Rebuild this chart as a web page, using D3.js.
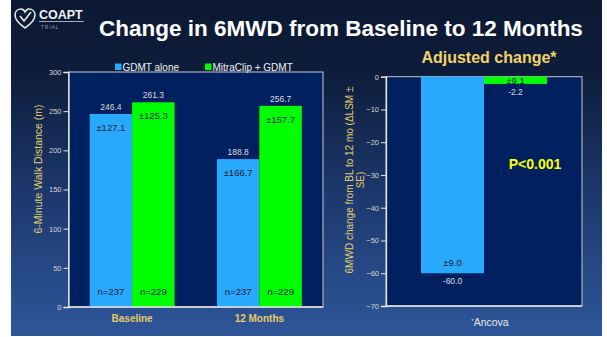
<!DOCTYPE html>
<html>
<head>
<meta charset="utf-8">
<script src="https://cdn.jsdelivr.net/npm/d3@7"></script>
<style>
  html, body { margin: 0; padding: 0; background: #fff; }
  svg { display: block; font-family: "Liberation Sans", Arial, sans-serif; }
</style>
</head>
<body>
<svg id="chart" width="607" height="337"></svg>
<script>
// data //
const groups = ["Baseline", "12 Months"]
const series = ["GDMT alone", "MitraClip + GDMT"]
const walkMean = [[246.4, 261.3], [188.8, 256.7]]
const walkSD = [[127.1, 125.3], [166.7, 157.7]]
const walkN = [[237, 229], [237, 229]]
const leftTicks = [0, 50, 100, 150, 200, 250, 300]

const adjChange = [-60.0, -2.2]
const adjSE = [9.0, 9.1]
const rightTicks = [0, -10, -20, -30, -40, -50, -60, -70]

const colors = ["#29a9fb", "#00ff00"]
const khaki = "#e2cc6a"

const svg = d3.select("#chart")

// background //
const defs = svg.append("defs")
const grad = defs.append("linearGradient").attr("id", "bg")
    .attr("x1", 0).attr("y1", 0).attr("x2", 0).attr("y2", 1)
grad.append("stop").attr("offset", "0%").attr("stop-color", "#0b1832")
grad.append("stop").attr("offset", "22%").attr("stop-color", "#0e1d3c")
grad.append("stop").attr("offset", "60%").attr("stop-color", "#1d3a70")
grad.append("stop").attr("offset", "100%").attr("stop-color", "#2f5699")

svg.append("rect").attr("x", 11).attr("y", 0).attr("width", 591).attr("height", 336)
    .attr("fill", "url(#bg)")

// logo //
const logo = svg.append("g").attr("transform", "translate(14,9)")
logo.append("path")
    .attr("d", "M11,19 C5,14 1,11 1,6 C1,2 4,0 7,0 C9,0 10,1 11,3 C12,1 13,0 15,0 C18,0 21,2 21,6 C21,11 17,14 11,19 Z")
    .attr("fill", "none").attr("stroke", "#e8e8e8").attr("stroke-width", 1.6)
logo.append("path")
    .attr("d", "M6,7 L10,12 L17,3")
    .attr("fill", "none").attr("stroke", "#e8e8e8").attr("stroke-width", 1.6)
svg.append("text").attr("x", 39).attr("y", 19).text("COAPT")
    .attr("fill", "#f2f2f2").attr("font-size", 12.5).attr("font-weight", "bold")
svg.append("line").attr("x1", 39).attr("x2", 84).attr("y1", 21.5).attr("y2", 21.5)
    .attr("stroke", "#cfcfcf").attr("stroke-width", 0.8)
svg.append("text").attr("x", 41).attr("y", 28.5).text("T   R   I   A   L")
    .attr("fill", "#9aa6b8").attr("font-size", 4.5)

// title //
svg.append("text").attr("x", 341).attr("y", 36).attr("text-anchor", "middle")
    .text("Change in 6MWD from Baseline to 12 Months")
    .attr("fill", "#ffffff").attr("font-size", 22.5).attr("font-weight", "bold")

// left chart //
const L = {left: 68.5, right: 323, top: 72, bottom: 307}

const x0 = d3.scaleBand().domain(groups).range([L.left, L.right]).paddingInner(1 / 3).paddingOuter(1 / 6)
const x1 = d3.scaleBand().domain(series).range([0, x0.bandwidth()])
const yL = d3.scaleLinear().domain([0, 300]).range([L.bottom, L.top])

svg.append("rect").attr("x", L.left).attr("y", L.top)
    .attr("width", L.right - L.left).attr("height", L.bottom - L.top)
    .attr("fill", "#002060").attr("stroke", "#c8c8c8").attr("stroke-width", 1)

const gL = svg.append("g")
groups.forEach((g, i) => {
    series.forEach((s, j) => {
        const bx = x0(g) + x1(s)
        const by = yL(walkMean[i][j])
        const cx = bx + x1.bandwidth() / 2
        gL.append("rect").attr("x", bx).attr("y", by)
            .attr("width", x1.bandwidth()).attr("height", yL(0) - by)
            .attr("fill", colors[j])
        gL.append("text").attr("x", cx).attr("y", by - 4).attr("text-anchor", "middle")
            .text(walkMean[i][j].toFixed(1)).attr("fill", "#dcdcdc").attr("font-size", 8.5)
        gL.append("text").attr("x", cx).attr("y", by + 17).attr("text-anchor", "middle")
            .text("±" + walkSD[i][j].toFixed(1)).attr("fill", "#0c1a36").attr("font-size", 9.5)
        gL.append("text").attr("x", cx).attr("y", yL(0) - 12).attr("text-anchor", "middle")
            .text("n=" + walkN[i][j]).attr("fill", "#0c1a36").attr("font-size", 9.5)
    })
})

const axL = svg.append("g").attr("transform", `translate(${L.left},0)`)
    .call(d3.axisLeft(yL).tickValues(leftTicks).tickSize(5).tickPadding(2))
axL.select(".domain").attr("stroke", "#e6e6e6").attr("stroke-width", 1.3)
axL.selectAll(".tick line").attr("stroke", "#e6e6e6")
axL.selectAll(".tick text").attr("fill", "#d6d6d6").attr("font-size", 7.5)
    .attr("font-family", "Liberation Sans, Arial, sans-serif")
svg.append("line").attr("x1", L.left).attr("x2", L.right).attr("y1", L.bottom).attr("y2", L.bottom)
    .attr("stroke", "#e6e6e6").attr("stroke-width", 1.3)

groups.forEach(g => {
    svg.append("text").attr("x", x0(g) + x0.bandwidth() / 2).attr("y", 322)
        .attr("text-anchor", "middle").text(g)
        .attr("fill", khaki).attr("font-size", 10).attr("font-weight", "bold")
})

svg.append("text").attr("transform", "translate(42,169) rotate(-90)")
    .attr("text-anchor", "middle").text("6-Minute Walk Distance (m)")
    .attr("fill", khaki).attr("font-size", 10.5)

// legend //
const legendX = [115, 205]
series.forEach((s, j) => {
    svg.append("rect").attr("x", legendX[j]).attr("y", 63.5).attr("width", 6.5).attr("height", 6.5)
        .attr("fill", colors[j])
    svg.append("text").attr("x", legendX[j] + 7.5).attr("y", 70.5).text(s)
        .attr("fill", "#f0f0f0").attr("font-size", 10)
})

// right chart //
const R = {left: 386, right: 582, top: 76.7, bottom: 306}
const xR = d3.scaleBand().domain(series).range([R.left, R.right]).paddingInner(0).paddingOuter(0.555)
const yR = d3.scaleLinear().domain([-70, 0]).range([R.bottom, R.top])

svg.append("rect").attr("x", R.left).attr("y", R.top)
    .attr("width", R.right - R.left).attr("height", R.bottom - R.top)
    .attr("fill", "#002060").attr("stroke", "#c8c8c8").attr("stroke-width", 1)

series.forEach((s, j) => {
    const bx = xR(s)
    const cx = bx + xR.bandwidth() / 2
    const yEnd = yR(adjChange[j])
    svg.append("rect").attr("x", bx).attr("y", yR(0))
        .attr("width", xR.bandwidth()).attr("height", yEnd - yR(0))
        .attr("fill", colors[j])
    const seY = Math.max(yEnd - 7, (yR(0) + yEnd) / 2 + 3.5)
    svg.append("text").attr("x", cx).attr("y", seY).attr("text-anchor", "middle")
        .text("±" + adjSE[j].toFixed(1)).attr("fill", "#0c1a36").attr("font-size", 9.5)
    svg.append("text").attr("x", cx).attr("y", yEnd + 11).attr("text-anchor", "middle")
        .text(adjChange[j].toFixed(1)).attr("fill", "#dcdcdc").attr("font-size", 8.5)
})

const axR = svg.append("g").attr("transform", `translate(${R.left},0)`)
    .call(d3.axisLeft(yR).tickValues(rightTicks).tickSize(5).tickPadding(2))
axR.select(".domain").attr("stroke", "#e6e6e6").attr("stroke-width", 1.3)
axR.selectAll(".tick line").attr("stroke", "#e6e6e6")
axR.selectAll(".tick text").attr("fill", "#d6d6d6").attr("font-size", 7.5)
    .attr("font-family", "Liberation Sans, Arial, sans-serif")
svg.append("line").attr("x1", R.left).attr("x2", R.right).attr("y1", R.bottom).attr("y2", R.bottom)
    .attr("stroke", "#e6e6e6").attr("stroke-width", 1.3)

const yLab = svg.append("text").attr("transform", "translate(353,180) rotate(-90)")
    .attr("text-anchor", "middle").attr("fill", khaki).attr("font-size", 10)
yLab.append("tspan").attr("x", 0).attr("dy", 0).text("6MWD change from BL to 12 mo (ΔLSM ±")
yLab.append("tspan").attr("x", 0).attr("dy", 11).text("SE)")

svg.append("text").attr("x", 489).attr("y", 63).attr("text-anchor", "middle")
    .text("Adjusted change*").attr("fill", "#f0d468").attr("font-size", 16).attr("font-weight", "bold")

svg.append("text").attr("x", 535).attr("y", 169).attr("text-anchor", "middle")
    .text("P<0.001").attr("fill", "#ffff00").attr("font-size", 14).attr("font-weight", "bold")

const anc = svg.append("text").attr("x", 490).attr("y", 326).attr("text-anchor", "middle")
    .attr("fill", "#e6e6e6").attr("font-size", 10.5)
anc.append("tspan").attr("font-size", 6).attr("dy", -3).text("*")
anc.append("tspan").attr("dy", 3).text("Ancova")
</script>
</body>
</html>
